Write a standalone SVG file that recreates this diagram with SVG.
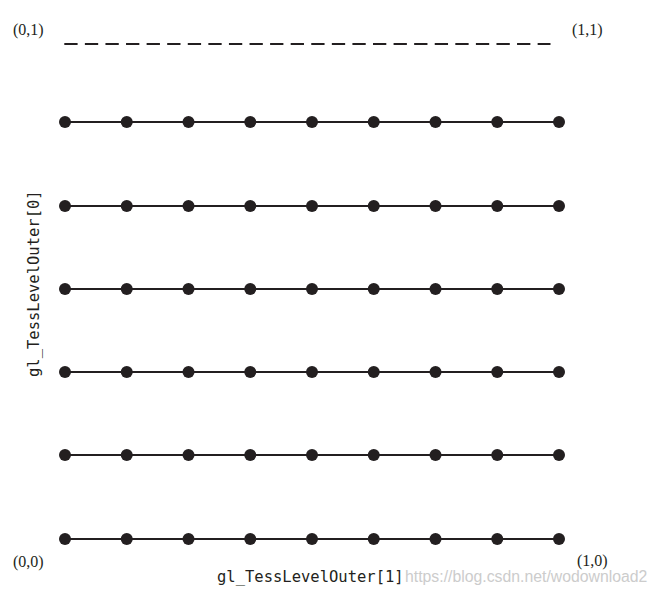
<svg xmlns="http://www.w3.org/2000/svg" width="656" height="593" viewBox="0 0 656 593">
<style>
.ln{stroke:#231f20;stroke-width:2;fill:none}
.dot{fill:#231f20}
.coord{font-family:"Liberation Serif",serif;font-size:16px;fill:#231f20}
.mono{font-family:"DejaVu Sans Mono",monospace;font-size:15.5px;fill:#231f20}
.wm{font-family:"Liberation Sans",sans-serif;font-size:15.8px;fill:#cccccc}
</style>
<defs>
<g id="row">
<line class="ln" x1="65" y1="0" x2="559" y2="0"/>
<circle class="dot" cx="65" cy="0" r="6"/>
<circle class="dot" cx="126.75" cy="0" r="6"/>
<circle class="dot" cx="188.5" cy="0" r="6"/>
<circle class="dot" cx="250.25" cy="0" r="6"/>
<circle class="dot" cx="312" cy="0" r="6"/>
<circle class="dot" cx="373.75" cy="0" r="6"/>
<circle class="dot" cx="435.5" cy="0" r="6"/>
<circle class="dot" cx="497.25" cy="0" r="6"/>
<circle class="dot" cx="559" cy="0" r="6"/>
</g>
</defs>
<rect width="656" height="593" fill="#fff"/>
<g id="connectors">
<line id="top-dashed" class="ln" x1="64.3" y1="44" x2="550.5" y2="44" stroke-dasharray="13.3 7.28"/>
</g>
<g id="row1"><use href="#row" y="122"/></g>
<g id="row2"><use href="#row" y="206"/></g>
<g id="row3"><use href="#row" y="289"/></g>
<g id="row4"><use href="#row" y="372"/></g>
<g id="row5"><use href="#row" y="455"/></g>
<g id="row6"><use href="#row" y="539"/></g>
<g id="labels">
<text class="coord" x="13" y="35">(0,1)</text>
<text class="coord" x="572" y="35">(1,1)</text>
<text class="coord" x="13" y="567">(0,0)</text>
<text class="coord" x="577" y="566">(1,0)</text>
<text class="mono" x="217" y="582">gl_TessLevelOuter[1]</text>
<text class="mono" transform="translate(39,377) rotate(-90)">gl_TessLevelOuter[0]</text>
<text class="wm" x="405" y="582">https://blog.csdn.net/wodownload2</text>
</g>
</svg>
